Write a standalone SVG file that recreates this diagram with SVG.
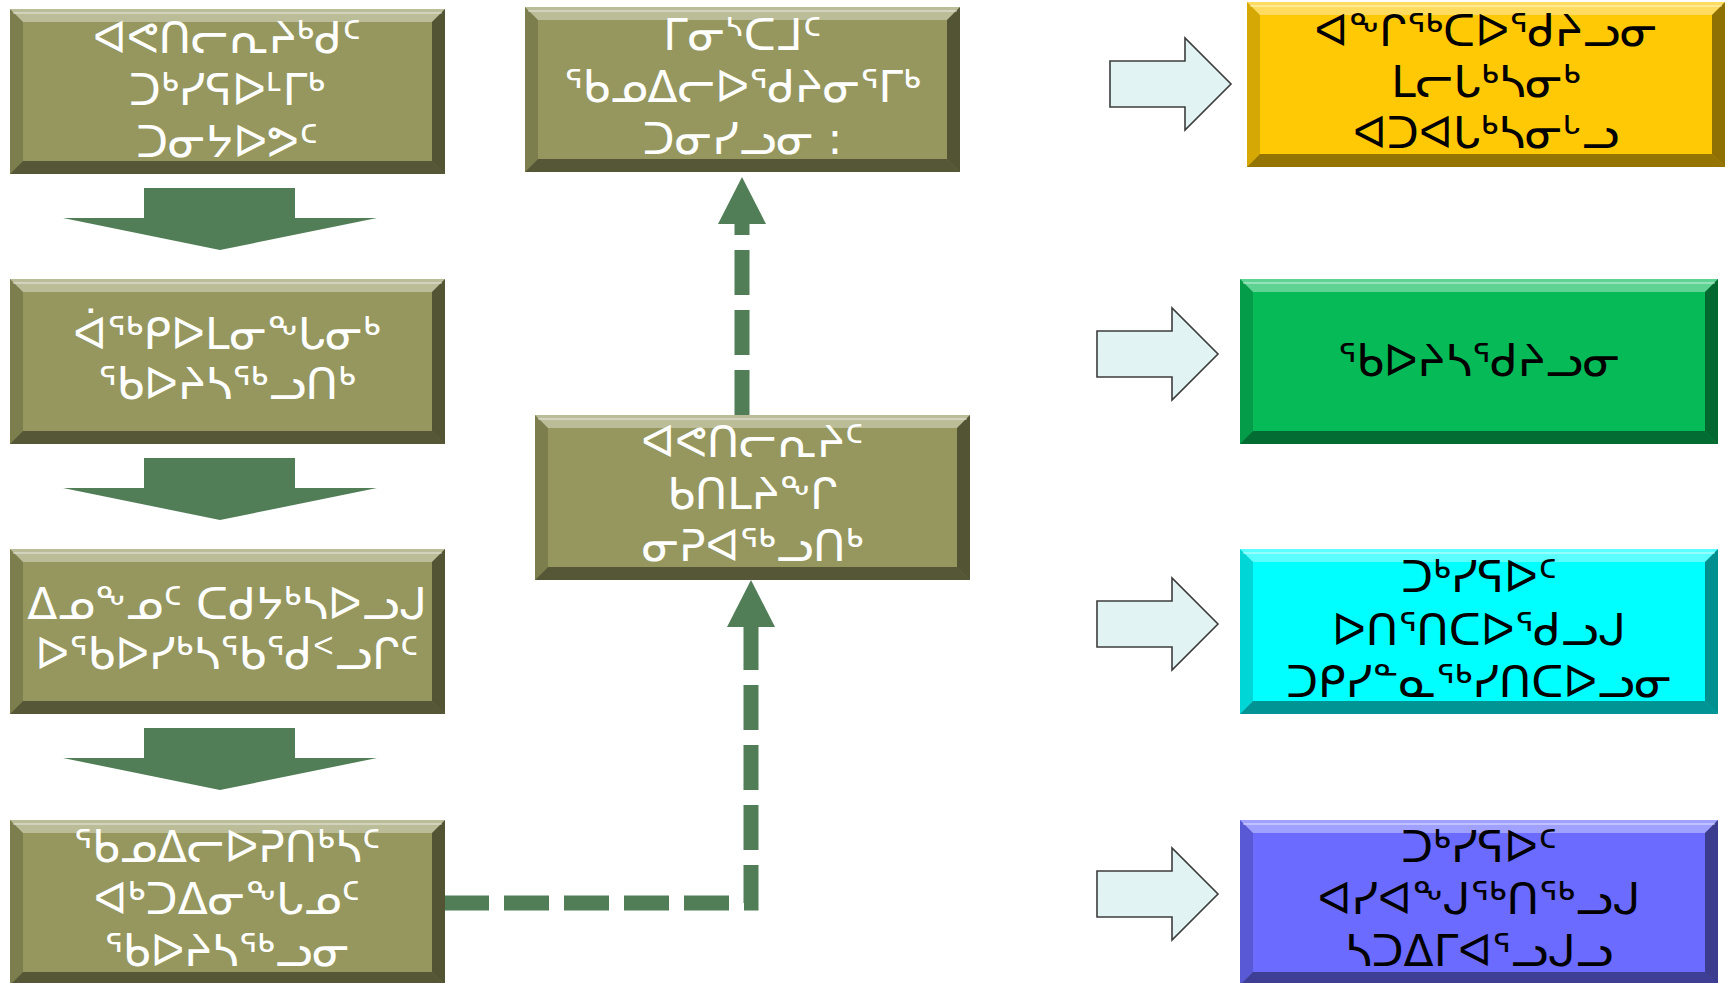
<svg xmlns="http://www.w3.org/2000/svg" xmlns:xlink="http://www.w3.org/1999/xlink" width="1725" height="983" viewBox="0 0 1725 983">
<style>
.olive{fill:#95975E}
.yel{fill:#FFC906}
.grn{fill:#06BA57}
.cyn{fill:#00FFFF}
.blu{fill:#6B6BFF}
.bt{fill:#fff;opacity:.36}
.bl{fill:#000;opacity:.16}
.br{fill:#000;opacity:.44}
.bb{fill:#000;opacity:.42}
.hl{fill:none;stroke:#fff;stroke-opacity:.35;stroke-width:2}
text{font-family:"DejaVu Sans","Noto Sans",sans-serif;font-size:44px;text-anchor:middle}
.w{fill:#fff}
.k{fill:#000}
.down{fill:#517E57}
.rarrow{fill:#E1F4F3;stroke:#3C3C3C;stroke-width:1.6}
.conn{fill:none;stroke:#517E57;stroke-width:15;stroke-dasharray:45 15}
</style>
<defs>
<g id="bev1">
<polygon class="bt" points="0,0 435,0 422,13 13,13"/>
<polygon class="bl" points="0,0 13,13 13,152 0,165"/>
<polygon class="br" points="435,0 435,165 422,152 422,13"/>
<polygon class="bb" points="0,165 13,152 422,152 435,165"/>
<line class="hl" x1="3" y1="4" x2="432" y2="4"/>
</g>
<g id="bev2">
<polygon class="bt" points="0,0 478,0 465,13 13,13"/>
<polygon class="bl" points="0,0 13,13 13,152 0,165"/>
<polygon class="br" points="478,0 478,165 465,152 465,13"/>
<polygon class="bb" points="0,165 13,152 465,152 478,165"/>
<line class="hl" x1="3" y1="4" x2="475" y2="4"/>
</g>
<path id="dArrow" class="down" d="M81,0 H232 V30 H314 L157,62 L0,30 H81 Z"/>
<path id="rArrow" class="rarrow" d="M0,23 H75 V0 L121,46 L75,92 V69 H0 Z"/>
<marker id="ah" markerUnits="userSpaceOnUse" markerWidth="48" markerHeight="48" refX="0" refY="24" orient="auto" viewBox="0 0 48 48">
<path d="M0,0 L47,24 L0,48 Z" fill="#517E57"/>
</marker>
</defs>

<g id="connectors">
<path class="conn" d="M444,903 H751 V627" marker-end="url(#ah)"/>
<path class="conn" d="M742,415 V224" marker-end="url(#ah)"/>
<use xlink:href="#dArrow" x="63" y="188"/>
<use xlink:href="#dArrow" x="63" y="458"/>
<use xlink:href="#dArrow" x="63" y="728"/>
<use xlink:href="#rArrow" x="1110" y="38"/>
<use xlink:href="#rArrow" x="1097" y="308"/>
<use xlink:href="#rArrow" x="1097" y="578"/>
<use xlink:href="#rArrow" x="1097" y="848"/>
</g>

<g id="box1">
<rect class="olive" x="10" y="9" width="435" height="165"/>
<use xlink:href="#bev1" x="10" y="9"/>
<text class="w" x="227" y="53">ᐊᕙᑎᓕᕆᔨᒃᑯᑦ</text>
<text class="w" x="227" y="105">ᑐᒃᓯᕋᐅᒻᒥᒃ</text>
<text class="w" x="227" y="157">ᑐᓂᔭᐅᕗᑦ</text>
</g>

<g id="box2">
<rect class="olive" x="10" y="279" width="435" height="165"/>
<use xlink:href="#bev1" x="10" y="279"/>
<text class="w" x="227" y="349">ᐋᖅᑭᐅᒪᓂᖕᒐᓂᒃ</text>
<text class="w" x="227" y="399">ᖃᐅᔨᓴᖅᓗᑎᒃ</text>
</g>

<g id="box3">
<rect class="olive" x="10" y="549" width="435" height="165"/>
<use xlink:href="#bev1" x="10" y="549"/>
<text class="w" x="227" y="619">ᐃᓄᖕᓄᑦ ᑕᑯᔭᒃᓴᐅᓗᒍ</text>
<text class="w" x="227" y="669">ᐅᖃᐅᓯᒃᓴᖃᖁᑉᓗᒋᑦ</text>
</g>

<g id="box4">
<rect class="olive" x="10" y="820" width="435" height="165"/>
<use xlink:href="#bev1" x="10" y="820"/>
<text class="w" x="227" y="862">ᖃᓄᐃᓕᐅᕈᑎᒃᓴᑦ</text>
<text class="w" x="227" y="914">ᐊᒃᑐᐃᓂᖕᒐᓄᑦ</text>
<text class="w" x="227" y="966">ᖃᐅᔨᓴᖅᓗᓂ</text>
</g>

<g id="boxTop">
<rect class="olive" x="525" y="7" width="435" height="165"/>
<use xlink:href="#bev1" x="525" y="7"/>
<text class="w" x="742.5" y="50">ᒥᓂᔅᑕᒧᑦ</text>
<text class="w" x="742.5" y="102">ᖃᓄᐃᓕᐅᖁᔨᓂᕐᒥᒃ</text>
<text class="w" x="742.5" y="154">ᑐᓂᓯᓗᓂ :</text>
</g>

<g id="boxMid">
<rect class="olive" x="535" y="415" width="435" height="165"/>
<use xlink:href="#bev1" x="535" y="415"/>
<text class="w" x="752.5" y="457">ᐊᕙᑎᓕᕆᔨᑦ</text>
<text class="w" x="752.5" y="509">ᑲᑎᒪᔨᖕᒋ</text>
<text class="w" x="752.5" y="561">ᓂᕈᐊᖅᓗᑎᒃ</text>
</g>

<g id="boxYellow">
<rect class="yel" x="1247" y="2" width="478" height="165"/>
<use xlink:href="#bev2" x="1247" y="2"/>
<text class="k" x="1486" y="46">ᐊᖕᒋᖅᑕᐅᖁᔨᓗᓂ</text>
<text class="k" x="1486" y="97">ᒪᓕᒐᒃᓴᓂᒃ</text>
<text class="k" x="1486" y="148">ᐊᑐᐊᒐᒃᓴᓂᒡᓗ</text>
</g>

<g id="boxGreen">
<rect class="grn" x="1240" y="279" width="478" height="165"/>
<use xlink:href="#bev2" x="1240" y="279"/>
<text class="k" x="1479" y="376">ᖃᐅᔨᓴᖁᔨᓗᓂ</text>
</g>

<g id="boxCyan">
<rect class="cyn" x="1240" y="549" width="478" height="165"/>
<use xlink:href="#bev2" x="1240" y="549"/>
<text class="k" x="1479" y="592">ᑐᒃᓯᕋᐅᑦ</text>
<text class="k" x="1479" y="645">ᐅᑎᕐᑎᑕᐅᖁᓗᒍ</text>
<text class="k" x="1479" y="697">ᑐᑭᓯᓐᓇᖅᓯᑎᑕᐅᓗᓂ</text>
</g>

<g id="boxBlue">
<rect class="blu" x="1240" y="820" width="478" height="165"/>
<use xlink:href="#bev2" x="1240" y="820"/>
<text class="k" x="1479" y="862">ᑐᒃᓯᕋᐅᑦ</text>
<text class="k" x="1479" y="914">ᐊᓯᐊᖕᒍᖅᑎᖅᓗᒍ</text>
<text class="k" x="1479" y="966">ᓴᑐᐃᒥᐊᕐᓗᒍᓗ</text>
</g>
</svg>
